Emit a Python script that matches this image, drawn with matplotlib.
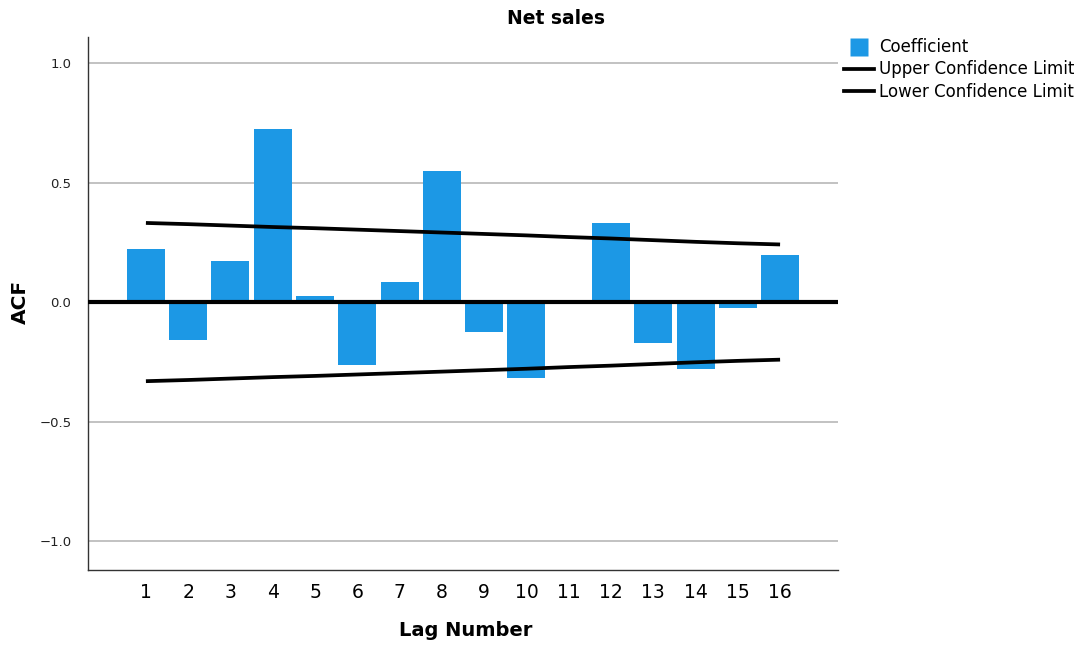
import matplotlib
matplotlib.use("Agg")
import matplotlib.pyplot as plt
from matplotlib.lines import Line2D

# Autocorrelation of net sales by lag
lags = [1, 2, 3, 4, 5, 6, 7, 8, 9, 10, 11, 12, 13, 14, 15, 16]
acf = [0.222, -0.159, 0.172, 0.724, 0.025, -0.265, 0.084, 0.548,
       -0.125, -0.317, -0.004, 0.331, -0.171, -0.279, -0.024, 0.197]
upper_cl = [0.331, 0.326, 0.320, 0.314, 0.309, 0.303, 0.297, 0.291,
            0.285, 0.279, 0.272, 0.266, 0.259, 0.252, 0.246, 0.241]
lower_cl = [-v for v in upper_cl]
yticks = [-1.0, -0.5, 0.0, 0.5, 1.0]
ytick_labels = ["\u22121.0", "\u22120.5", "0.0", "0.5", "1.0"]

bar_color = "#1c98e5"

fig = plt.figure(figsize=(10.83, 6.46), dpi=100)
ax = fig.add_axes([88 / 1083, 1 - 570 / 646, 750 / 1083, 533 / 646])

ax.set_xlim(-0.37, 17.37)
ax.set_ylim(-1.121, 1.109)

for y in yticks:
    if y != 0:
        ax.axhline(y, color="#b8b8b8", lw=1.2, zorder=0)

ax.bar(lags, acf, width=0.9, color=bar_color, zorder=2)
ax.axhline(0, color="black", lw=3.0, zorder=3)
ax.plot(lags, upper_cl, color="black", lw=2.7, solid_capstyle="butt", zorder=4)
ax.plot(lags, lower_cl, color="black", lw=2.7, solid_capstyle="butt", zorder=4)

for side in ("top", "right"):
    ax.spines[side].set_visible(False)
for side in ("left", "bottom"):
    ax.spines[side].set_color("#333333")
    ax.spines[side].set_linewidth(1.0)

ax.set_xticks(lags)
ax.set_xticklabels([str(l) for l in lags], fontsize=13.5)
ax.set_yticks(yticks)
ax.set_yticklabels(ytick_labels, fontsize=9.5, color="#222222")
ax.tick_params(axis="both", length=0)
ax.tick_params(axis="x", pad=9)
ax.tick_params(axis="y", pad=12)

fig.text(466 / 1083, 1 - 630 / 646, "Lag Number", ha="center", va="center",
         fontsize=14, fontweight="bold")
fig.text(20 / 1083, 1 - 302 / 646, "ACF", ha="center", va="center",
         rotation=90, fontsize=14.5, fontweight="bold")
fig.text(556 / 1083, 1 - 19 / 646, "Net sales", ha="center", va="center",
         fontsize=13.5, fontweight="bold")

handles = [
    Line2D([0], [0], color="none", marker="s", markersize=13,
           markerfacecolor=bar_color, markeredgecolor="none"),
    Line2D([0], [0], color="black", lw=2.7),
    Line2D([0], [0], color="black", lw=2.7),
]
labels = ["Coefficient", "Upper Confidence Limit", "Lower Confidence Limit"]
fig.legend(handles, labels, loc="upper left", bbox_to_anchor=(841 / 1083, 1 - 35 / 646),
           frameon=False, fontsize=12, handlelength=1.75, handletextpad=0.35,
           labelspacing=0.25, borderpad=0.2, borderaxespad=0.0)

fig.savefig("out.png", dpi=100)
